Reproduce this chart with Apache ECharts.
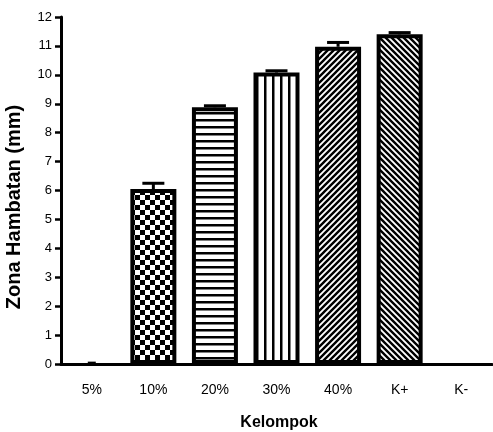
<!DOCTYPE html>
<html><head><meta charset="utf-8">
<script src="https://cdn.jsdelivr.net/npm/echarts@6/dist/echarts.min.js"></script>
<style>html,body{margin:0;padding:0;background:#fff}#c{width:493px;height:432px}</style>
</head><body><div id="c"></div>
<script>
const categories = ['5%', '10%', '20%', '30%', '40%', 'K+', 'K-'];
const values = [0, 6.05, 8.88, 10.08, 10.97, 11.4, 0];
const errors = [0.03, 0.2, 0.05, 0.06, 0.15, 0.06, 0];
const yTicks = [0, 1, 2, 3, 4, 5, 6, 7, 8, 9, 10, 11, 12];
const yTitle = 'Zona Hambatan (mm)';
const xTitle = 'Kelompok';

function pat(kind) {
  const c = document.createElement('canvas');
  const s = kind === 'check' ? 10 : (kind === 'h' ? 7 : (kind === 'v' ? 8 : 6));
  c.width = s; c.height = s;
  const g = c.getContext('2d');
  g.fillStyle = '#fff'; g.fillRect(0, 0, s, s);
  g.fillStyle = '#000'; g.strokeStyle = '#000';
  if (kind === 'check') { g.fillRect(0, 0, 5, 5); g.fillRect(5, 5, 5, 5); }
  else if (kind === 'h') { g.fillRect(0, 0, s, 2.5); }
  else if (kind === 'v') { g.fillRect(0, 0, 2.5, s); }
  else {
    g.lineWidth = 2.4;
    g.beginPath();
    if (kind === 'd1') { for (let k = -1; k <= 1; k++) { g.moveTo(k * s - 1, s + 1); g.lineTo(k * s + s + 1, -1); } }
    else { for (let k = -1; k <= 1; k++) { g.moveTo(k * s - 1, -1); g.lineTo(k * s + s + 1, s + 1); } }
    g.stroke();
  }
  return { image: c, repeat: 'repeat' };
}
const fills = ['#fff', pat('check'), pat('h'), pat('v'), pat('d1'), pat('d2'), '#fff'];

const chart = echarts.init(document.getElementById('c'));
chart.setOption({
  animation: false,
  grid: { left: 61, right: 1, top: 17, bottom: 68 },
  graphic: [
    { type: 'text', x: 4, y: 207, rotation: Math.PI / 2,
      style: { text: yTitle, fontFamily: 'Liberation Sans', fontWeight: 'bold', fontSize: 20, fill: '#000', align: 'center', verticalAlign: 'top' } },
    { type: 'text', x: 279, y: 423,
      style: { text: xTitle, fontFamily: 'Liberation Sans', fontWeight: 'bold', fontSize: 16, fill: '#000', align: 'center', verticalAlign: 'middle' } }
  ],
  xAxis: {
    type: 'category', data: categories,
    axisLine: { lineStyle: { color: '#000', width: 3 } },
    axisTick: { alignWithLabel: true, length: 9, lineStyle: { color: '#000', width: 2.5 } },
    axisLabel: { fontFamily: 'Liberation Sans', fontSize: 14, color: '#000', margin: 19 }
  },
  yAxis: {
    type: 'value', min: 0, max: 12, interval: 1,
    axisLine: { show: true, lineStyle: { color: '#000', width: 3 } },
    axisTick: { show: true, length: 6, lineStyle: { color: '#000', width: 2.5 } },
    axisLabel: { fontFamily: 'Liberation Sans', fontSize: 13, color: '#000', margin: 9,
      formatter: v => yTicks.includes(v) ? String(v) : '' },
    splitLine: { show: false }
  },
  series: [{
    type: 'bar', barWidth: 46,
    data: values.map((v, i) => ({ value: v, itemStyle: { color: fills[i], borderColor: '#000', borderWidth: v > 0 ? 4 : 0 } })),
    z: 2
  }, {
    type: 'custom', z: 3,
    data: values.map((v, i) => [i, v, errors[i]]),
    renderItem: (params, api) => {
      const i = api.value(0), v = api.value(1), e = api.value(2);
      if (e <= 0) return null;
      const top = api.coord([i, v + e]);
      const base = api.coord([i, v]);
      const hw = v > 0 ? 11 : 4;
      return { type: 'group', children: [
        { type: 'line', shape: { x1: top[0], y1: top[1], x2: base[0], y2: base[1] }, style: { stroke: '#000', lineWidth: 3 } },
        { type: 'line', shape: { x1: top[0] - hw, y1: top[1], x2: top[0] + hw, y2: top[1] }, style: { stroke: '#000', lineWidth: 3 } }
      ] };
    }
  }]
});
</script></body></html>
